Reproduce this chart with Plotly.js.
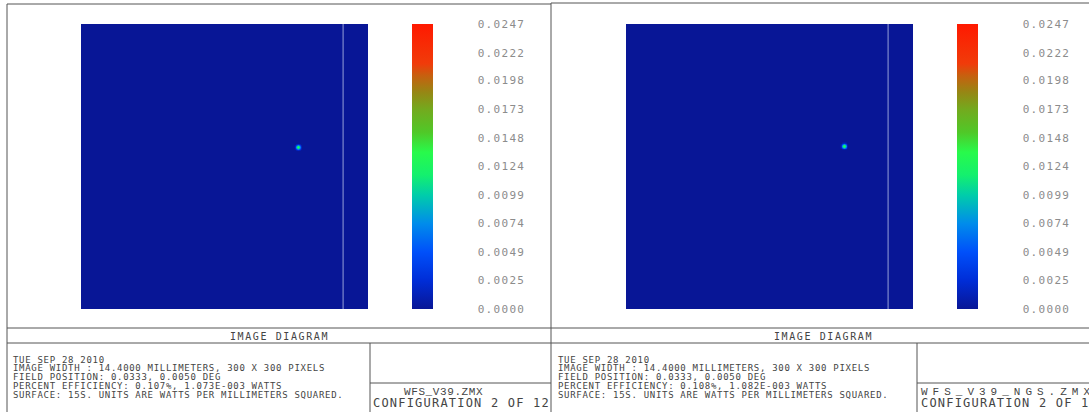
<!DOCTYPE html>
<html>
<head>
<meta charset="utf-8">
<script src="https://cdn.plot.ly/plotly-3.0.1.min.js"></script>
<style>html,body{margin:0;padding:0;background:#fff;}#chart{width:1089px;height:412px;}</style>
</head>
<body>
<div id="chart"></div>
<script>
// ---------- data ----------
const imageWidthMM = 14.4;          // IMAGE WIDTH : 14.4000 MILLIMETERS
const pixelsAcross = 300;           // 300 X 300 PIXELS
const zMax = 0.0247;                // top of the colour bar (W/mm^2)

const backgroundZ = [[0]];          // the detector is ~0 everywhere else

// small spot (7x7 detector pixels) around its centroid, W/mm^2
const spotCenterL = [3.70, 0.97];
const spotZL = [
  [0.0000, 0.0010, 0.0016, 0.0020, 0.0016, 0.0010, 0.0000],
  [0.0010, 0.0030, 0.0055, 0.0070, 0.0055, 0.0030, 0.0010],
  [0.0016, 0.0060, 0.0095, 0.0110, 0.0090, 0.0055, 0.0016],
  [0.0020, 0.0075, 0.0120, 0.0135, 0.0110, 0.0070, 0.0020],
  [0.0016, 0.0060, 0.0100, 0.0115, 0.0095, 0.0055, 0.0016],
  [0.0010, 0.0030, 0.0055, 0.0075, 0.0055, 0.0030, 0.0010],
  [0.0000, 0.0010, 0.0016, 0.0020, 0.0016, 0.0010, 0.0000]
];
const spotCenterR = [3.74, 1.04];
const spotZR = [
  [0.0000, 0.0010, 0.0016, 0.0020, 0.0016, 0.0010, 0.0000],
  [0.0010, 0.0035, 0.0060, 0.0075, 0.0060, 0.0035, 0.0010],
  [0.0016, 0.0065, 0.0100, 0.0115, 0.0095, 0.0060, 0.0016],
  [0.0020, 0.0080, 0.0118, 0.0130, 0.0115, 0.0075, 0.0020],
  [0.0016, 0.0065, 0.0105, 0.0120, 0.0100, 0.0060, 0.0016],
  [0.0010, 0.0035, 0.0060, 0.0080, 0.0060, 0.0035, 0.0010],
  [0.0000, 0.0010, 0.0016, 0.0020, 0.0016, 0.0010, 0.0000]
];
const seamX = 5.95;                  // light vertical seam in both images

const tickLabels = ["0.0000","0.0025","0.0049","0.0074","0.0099","0.0124",
                    "0.0148","0.0173","0.0198","0.0222","0.0247"];

const csStops  = [0, 0.10, 0.20, 0.30, 0.40, 0.47, 0.55, 0.62, 0.70, 0.76, 0.82, 0.86, 1];
const csColors = ["rgb(8,22,150)","rgb(0,45,215)","rgb(0,80,250)","rgb(0,140,235)",
                  "rgb(0,205,170)","rgb(20,240,110)","rgb(40,250,75)","rgb(80,200,40)",
                  "rgb(115,170,30)","rgb(150,135,20)","rgb(200,95,15)","rgb(240,60,10)",
                  "rgb(255,25,0)"];

const titleText = "IMAGE DIAGRAM";
const infoL = ["TUE SEP 28 2010",
  "IMAGE WIDTH : 14.4000 MILLIMETERS, 300 X 300 PIXELS",
  "FIELD POSITION: 0.0333, 0.0050 DEG",
  "PERCENT EFFICIENCY: 0.107%, 1.073E-003 WATTS",
  "SURFACE: 15S. UNITS ARE WATTS PER MILLIMETERS SQUARED."];
const infoR = ["TUE SEP 28 2010",
  "IMAGE WIDTH : 14.4000 MILLIMETERS, 300 X 300 PIXELS",
  "FIELD POSITION: 0.0333, 0.0050 DEG",
  "PERCENT EFFICIENCY: 0.108%, 1.082E-003 WATTS",
  "SURFACE: 15S. UNITS ARE WATTS PER MILLIMETERS SQUARED."];
const fileL = "WFS_V39.ZMX";
const fileR = "WFS_V39_NGS.ZMX";
const configText = "CONFIGURATION 2 OF 12";

// ---------- helpers ----------
const W = 1089, H = 412;
const px = x => x / W;
const py = y => 1 - y / H;
const half = imageWidthMM / 2;
const dpix = imageWidthMM / pixelsAcross;
const colorscale = csStops.map((s, i) => [s, csColors[i]]);
const mono = "DejaVu Sans Mono, monospace";
const mono2 = "Liberation Mono, DejaVu Sans Mono, monospace";
const sp = (t, ls) => `<span style="letter-spacing:${ls}px">${t}</span>`;

const CB_TOP = 24, CB_BOT = 309;

function colorbar(leftPx) {
  return {
    thickness: 21, thicknessmode: 'pixels',
    len: CB_BOT - CB_TOP, lenmode: 'pixels',
    x: px(leftPx), xanchor: 'left',
    y: py(CB_BOT), yanchor: 'bottom',
    xpad: 0, ypad: 0, outlinewidth: 0,
    ticks: 'outside', ticklen: 43, tickcolor: 'rgba(0,0,0,0)',
    tickvals: tickLabels.map(Number),
    ticktext: tickLabels.map(t => sp(t, 1.3)),
    tickfont: {family: mono, size: 11, color: '#8c8c8c'}
  };
}

function panelTraces(xa, ya, center, spotZ, cbLeft) {
  const n = spotZ.length;
  return [
    {type: 'heatmap', z: backgroundZ, x0: 0, dx: imageWidthMM, y0: 0, dy: imageWidthMM,
     xaxis: xa, yaxis: ya, zmin: 0, zmax: zMax, colorscale: colorscale,
     showscale: true, colorbar: colorbar(cbLeft), hoverinfo: 'skip'},
    {type: 'heatmap', z: spotZ,
     x0: center[0] - dpix * (n - 1) / 2, dx: dpix,
     y0: center[1] - dpix * (n - 1) / 2, dy: dpix,
     xaxis: xa, yaxis: ya, zmin: 0, zmax: zMax, colorscale: colorscale,
     showscale: false, hoverinfo: 'skip'},
    {type: 'scatter', mode: 'lines', x: [seamX, seamX], y: [-half, half],
     xaxis: xa, yaxis: ya, line: {color: 'rgb(150,160,215)', width: 1},
     hoverinfo: 'skip', showlegend: false}
  ];
}

const data = [
  ...panelTraces('x', 'y', spotCenterL, spotZL, 412),
  ...panelTraces('x2', 'y2', spotCenterR, spotZR, 957)
];

const ax = (d) => ({domain: d, range: [-half, half], visible: false, fixedrange: true});

// frame lines
const lineStyle = {color: '#555', width: 1};
function seg(x0, y0, x1, y1) {
  return {type: 'line', xref: 'paper', yref: 'paper',
          x0: px(x0), y0: py(y0), x1: px(x1), y1: py(y1), line: lineStyle};
}
const shapes = [
  // left panel
  seg(7, 4, 551, 4), seg(7, 4, 7, 412), seg(551, 3, 551, 412),
  seg(7, 328, 551, 328), seg(7, 343, 551, 343),
  seg(370, 343, 370, 412), seg(370, 383, 551, 383),
  // right panel
  seg(551, 3, 1089, 3),
  seg(551, 328, 1089, 328), seg(551, 343, 1089, 343),
  seg(917, 343, 917, 412), seg(917, 383, 1089, 383)
];

const annotations = [];
const PAD = 3;  // borderpad keeps descenders (underscores) unclipped
function ann(text, x, y, xanchor, size, color, fam) {
  const dx = xanchor === 'left' ? -PAD : 0;
  annotations.push({text: text, x: px(x + dx), y: py(y), xref: 'paper', yref: 'paper',
    xanchor: xanchor, yanchor: 'middle', showarrow: false, borderpad: PAD,
    font: {family: fam || mono, size: size, color: color}});
}
const lineY = [359.5, 368, 376.5, 385.5, 394.5];
ann(sp(titleText, 1.6), 279, 336, 'center', 10, '#444');
ann(sp(titleText, 1.6), 824, 336, 'center', 10, '#444');
infoL.forEach((t, i) => ann(sp(t, 0.7), 12, lineY[i], 'left', 9, '#444'));
infoR.forEach((t, i) => ann(sp(t, 0.7), 557, lineY[i], 'left', 9, '#444'));
ann(sp(fileL, 0.6), 443, 392, 'center', 11, '#444', mono2);
ann(sp(configText, 1.2), 461, 403, 'center', 12, '#444');
ann(sp(fileR, 5.0), 920, 392, 'left', 11, '#444', mono2);
ann(sp(configText, 1.2), 920, 403, 'left', 12, '#444');

const layout = {
  width: W, height: H,
  margin: {l: 0, r: 0, t: 0, b: 0, pad: 0},
  paper_bgcolor: '#fff', plot_bgcolor: 'rgba(0,0,0,0)',
  showlegend: false,
  xaxis: Object.assign(ax([px(81), px(368)]), {anchor: 'y'}),
  yaxis: Object.assign(ax([py(309), py(24)]), {anchor: 'x'}),
  xaxis2: Object.assign(ax([px(626), px(913)]), {anchor: 'y2'}),
  yaxis2: Object.assign(ax([py(309), py(24)]), {anchor: 'x2'}),
  shapes: shapes,
  annotations: annotations
};

Plotly.newPlot('chart', data, layout, {displayModeBar: false, staticPlot: true});
</script>
</body>
</html>
